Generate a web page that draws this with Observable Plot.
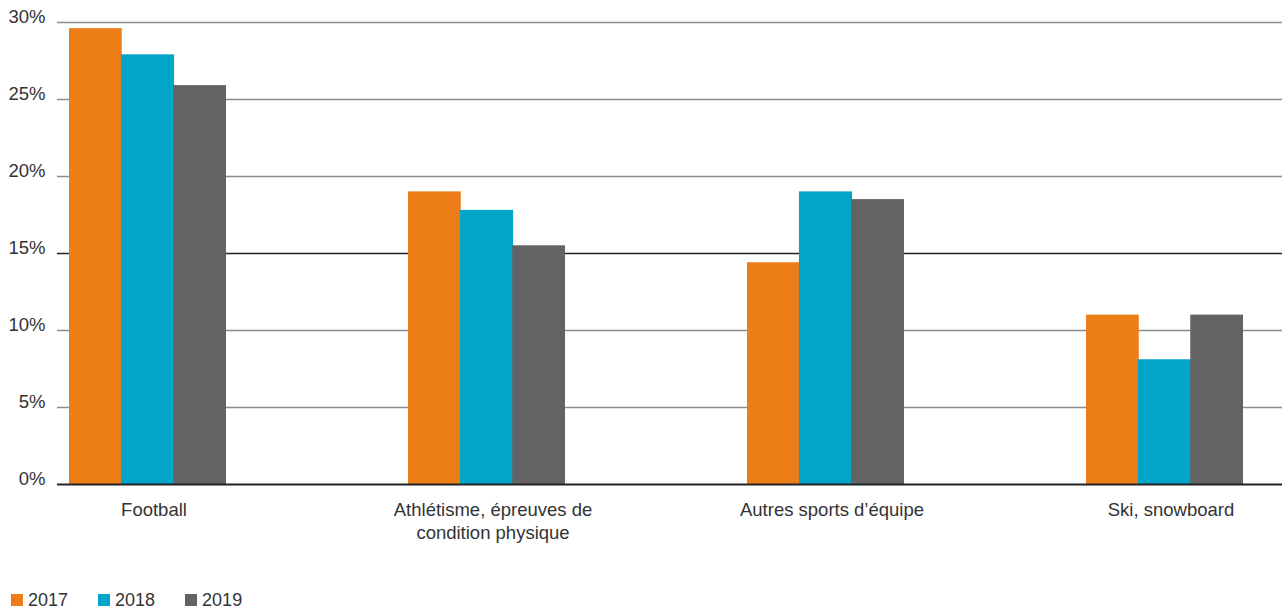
<!DOCTYPE html>
<html>
<head>
<meta charset="utf-8">
<script src="https://cdn.jsdelivr.net/npm/d3@7"></script>
<script src="https://cdn.jsdelivr.net/npm/@observablehq/plot@0.6"></script>
<style>
  html, body { margin: 0; padding: 0; background: #fff; }
  body { width: 1283px; height: 612px; overflow: hidden; font-family: "Liberation Sans", Helvetica, Arial, sans-serif; color: #333; }
  #legend { display: flex; align-items: center; margin-top: 30px; padding-left: 11px; font-size: 18px; line-height: 20px; }
  #legend .item { display: flex; align-items: center; margin-right: 30px; }
  #legend .sw { width: 12px; height: 12px; margin-right: 5px; }
</style>
</head>
<body>
<div id="chart"></div>
<div id="legend"></div>
<script>
// ---- data ----
const categories = ["Football", "Athlétisme, épreuves de\ncondition physique", "Autres sports d’équipe", "Ski, snowboard"];
const years = ["2017", "2018", "2019"];
const values2017 = [29.6, 19.0, 14.4, 11.0];
const values2018 = [27.9, 17.8, 19.0, 8.1];
const values2019 = [25.9, 15.5, 18.5, 11.0];
const yTicks = [0, 5, 10, 15, 20, 25, 30];
const darkGrid = 15;
const colors = ["#ED7D17", "#00A5C8", "#636363"];

// ---- layout ----
const W = 1283, H = 560;
const mL = 57, mR = 1, mT = 22, mB = 76;
const xOpts = {type: "band", domain: categories, paddingInner: 0.5375, paddingOuter: 0.0733, align: 0.225};
const xs = Plot.scale({x: {...xOpts, range: [mL, W - mR]}});
const bw = xs.bandwidth / 3;

const series = [values2017, values2018, values2019];
const tables = series.map((vals) => categories.map((c, i) => ({category: c, value: vals[i]})));

const barMarks = tables.map((t, i) => Plot.barY(t, {
  x: "category", y: "value", fill: colors[i],
  insetLeft: Math.max(0, i * bw - 0.4), insetRight: Math.max(0, (2 - i) * bw - 0.4)
}));

const chart = Plot.plot({
  width: W, height: H,
  marginLeft: mL, marginRight: mR, marginTop: mT, marginBottom: mB,
  style: {fontFamily: "'Liberation Sans', Helvetica, Arial, sans-serif", fontSize: "18px", color: "#333", background: "#fff", overflow: "visible"},
  x: {...xOpts, axis: null},
  y: {domain: [0, 30], axis: null},
  marks: [
    Plot.ruleY(yTicks.filter(d => d > 0 && d !== darkGrid), {stroke: "#8c8c8c", strokeWidth: 1.3}),
    Plot.ruleY(yTicks.filter(d => d === darkGrid), {stroke: "#222", strokeWidth: 1.3}),
    ...barMarks,
    Plot.ruleY([0], {stroke: "#222", strokeWidth: 2}),
    Plot.text(yTicks, {y: d => d, text: d => d + "%", frameAnchor: "left", textAnchor: "end", dx: -12, dy: -5, fill: "#333", fontSize: 18.5}),
    Plot.text(categories, {x: d => d, y: 0, text: d => d, lineAnchor: "top", dy: 15, dx: 6, lineHeight: 1.25, fill: "#333", fontSize: 18.5})
  ]
});
document.getElementById("chart").appendChild(chart);

// ---- legend ----
const legend = document.getElementById("legend");
years.forEach((y, i) => {
  const item = document.createElement("div");
  item.className = "item";
  const sw = document.createElement("span");
  sw.className = "sw";
  sw.style.background = colors[i];
  const lab = document.createElement("span");
  lab.textContent = y;
  item.appendChild(sw); item.appendChild(lab);
  legend.appendChild(item);
});
</script>
</body>
</html>
